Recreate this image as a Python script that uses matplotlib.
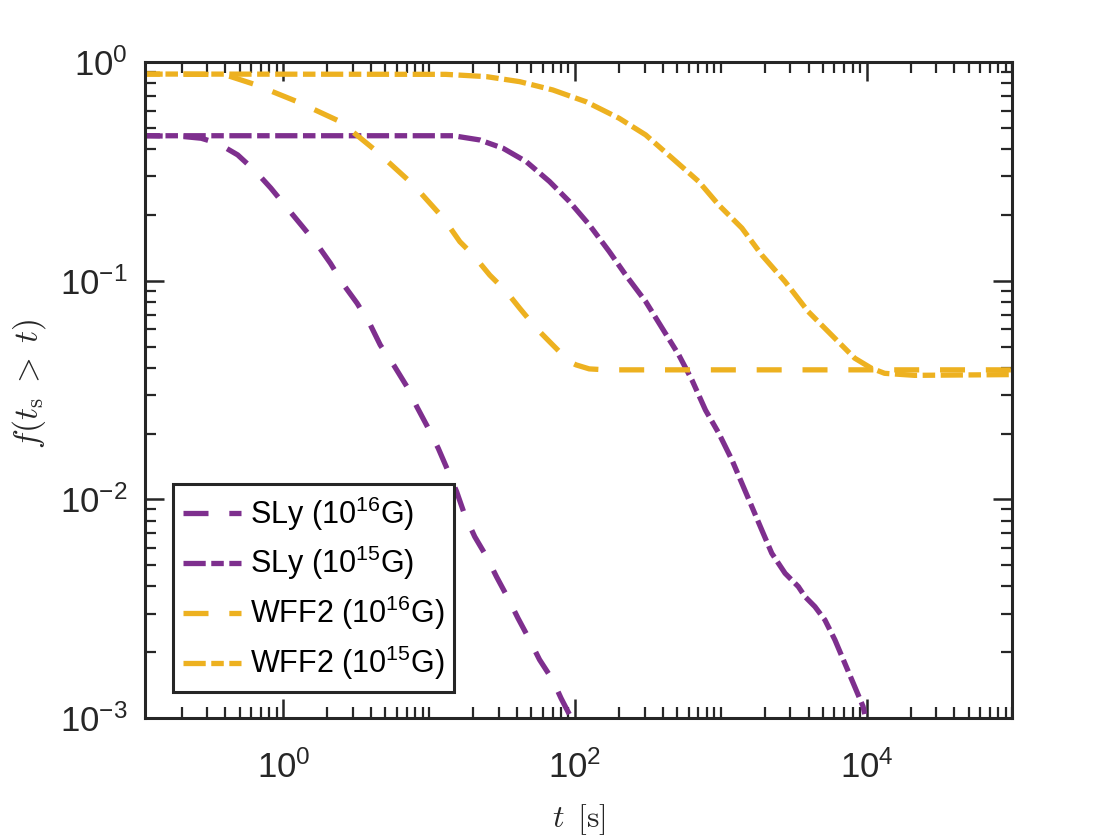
import matplotlib
matplotlib.use('Agg')
import matplotlib.pyplot as plt
from matplotlib.ticker import LogLocator, NullFormatter

# ---------------- data ----------------
sly16_t = [0.1, 0.2, 0.2725, 0.354, 0.485, 0.647, 0.819, 1.065, 1.348, 1.706, 2.10, 2.593,
           3.20, 3.945, 4.61, 5.69, 7.02, 8.22, 9.86, 11.53, 13.5, 15.4, 17.5, 20.5,
           24.7, 28.9, 34.7, 40.6, 48.7, 57.0, 70.3, 80.2, 98.0]
sly16_f = [0.461, 0.457, 0.448, 0.425, 0.376, 0.315, 0.265, 0.214, 0.177, 0.146, 0.120, 0.0955,
           0.0788, 0.0627, 0.0508, 0.0412, 0.0328, 0.0265, 0.0211, 0.0171, 0.0134, 0.01084, 0.00849, 0.00675,
           0.00547, 0.00443, 0.00353, 0.00286, 0.00228, 0.00185, 0.00149, 0.00123, 0.00095]

sly15_t = [0.1, 14.6, 22.2, 32.1, 46.3, 66.8, 91.4, 125.2, 171.4, 222.8, 305.2, 396, 515, 635,
           784, 966, 1191, 1393, 1631, 1908, 2233, 2756, 3397, 3776, 4417, 5168, 6050, 7080,
           8283, 9440, 10000]
sly15_f = [0.460, 0.460, 0.440, 0.403, 0.350, 0.284, 0.230, 0.180, 0.136, 0.106, 0.0802, 0.0606, 0.0457, 0.035,
           0.0256, 0.0201, 0.01514, 0.01185, 0.00926, 0.00724, 0.00567, 0.00459, 0.00399, 0.00359, 0.00323, 0.00281,
           0.00228, 0.00178, 0.00139, 0.00113, 0.00095]

wff16_t = [0.1, 0.3, 0.415, 0.630, 1.246, 2.46, 4.38, 7.79, 12.5, 16.2, 20.0, 26.0, 33.8, 41.7,
           54.2, 66.8, 91.4, 101.6, 125, 163, 1e5]
wff16_f = [0.881, 0.878, 0.866, 0.791, 0.658, 0.533, 0.389, 0.274, 0.193, 0.1508, 0.131, 0.106, 0.0891, 0.0748,
           0.0606, 0.0526, 0.0426, 0.0412, 0.0395, 0.0391, 0.0391]

wff15_t = [0.1, 13, 24.7, 41.7, 70.3, 118.9, 200.5, 305, 464, 705, 966, 1393, 1908, 2756,
           3974, 6050, 8283, 10750, 13270, 21270, 1e5]
wff15_f = [0.881, 0.878, 0.857, 0.813, 0.745, 0.658, 0.553, 0.464, 0.363, 0.284, 0.222, 0.174, 0.131, 0.0990,
           0.0722, 0.0545, 0.0442, 0.0398, 0.0377, 0.0369, 0.0372]

labels = [r"SLy ($\mathdefault{10^{16}}$G)", r"SLy ($\mathdefault{10^{15}}$G)",
          r"WFF2 ($\mathdefault{10^{16}}$G)", r"WFF2 ($\mathdefault{10^{15}}$G)"]

x_major = [1e0, 1e2, 1e4]

# ---------------- style ----------------
plt.rcParams['font.family'] = ['Liberation Sans', 'DejaVu Sans']
plt.rcParams['mathtext.fontset'] = 'cm'
plt.rcParams['axes.unicode_minus'] = False
plt.rcParams['lines.scale_dashes'] = False

purple = '#7E2F8E'
orange = '#EDB120'
dark = '#262626'
lw = 3.8
dash16 = (0, (18, 15))
dash15 = (0, (16, 4, 9, 4))

fig = plt.figure(figsize=(11.2, 8.4), dpi=100)
ax = fig.add_axes([0.1299, 0.1452, 0.7741, 0.781])

ax.plot(sly16_t, sly16_f, color=purple, lw=lw, linestyle=dash16, label=labels[0])
ax.plot(sly15_t, sly15_f, color=purple, lw=lw, linestyle=dash15, label=labels[1])
ax.plot(wff16_t, wff16_f, color=orange, lw=lw, linestyle=dash16, label=labels[2])
ax.plot(wff15_t, wff15_f, color=orange, lw=lw, linestyle=dash15, label=labels[3])

ax.set_xscale('log')
ax.set_yscale('log')
ax.set_xlim(0.1131, 1e5)
ax.set_ylim(1e-3, 1)
ax.set_xticks(x_major)
ax.xaxis.set_minor_locator(LogLocator(base=10, subs=range(1, 10), numticks=50))
ax.xaxis.set_minor_formatter(NullFormatter())
ax.yaxis.set_minor_locator(LogLocator(base=10, subs=range(2, 10), numticks=50))
ax.yaxis.set_minor_formatter(NullFormatter())

ax.tick_params(which='both', direction='in', top=True, right=True, colors=dark)
ax.tick_params(which='major', length=14, width=1.8, labelsize=25)
ax.tick_params(which='minor', length=8, width=1.6)
ax.tick_params(axis='x', which='major', pad=23)
ax.tick_params(axis='y', which='major', pad=13)
for s in ax.spines.values():
    s.set_linewidth(2.2)
    s.set_color(dark)

ax.set_xlabel(r"$t\ \,[\mathrm{s}]$", fontsize=23, color=dark)
ax.set_ylabel(r"$f(t_\mathrm{s}\;>\;t)$", fontsize=24, color=dark)
ax.xaxis.set_label_coords(0.5, -0.128)
ax.yaxis.set_label_coords(-0.113, 0.51)

leg = ax.legend(loc='lower left', bbox_to_anchor=(0.032, 0.0396), borderaxespad=0,
                fontsize=22, handlelength=1.9, handletextpad=0.28, labelspacing=0.38,
                borderpad=0.32, frameon=True, fancybox=False, edgecolor=dark, framealpha=1)
leg.get_frame().set_linewidth(2.2)

fig.savefig('out.png', dpi=100)
